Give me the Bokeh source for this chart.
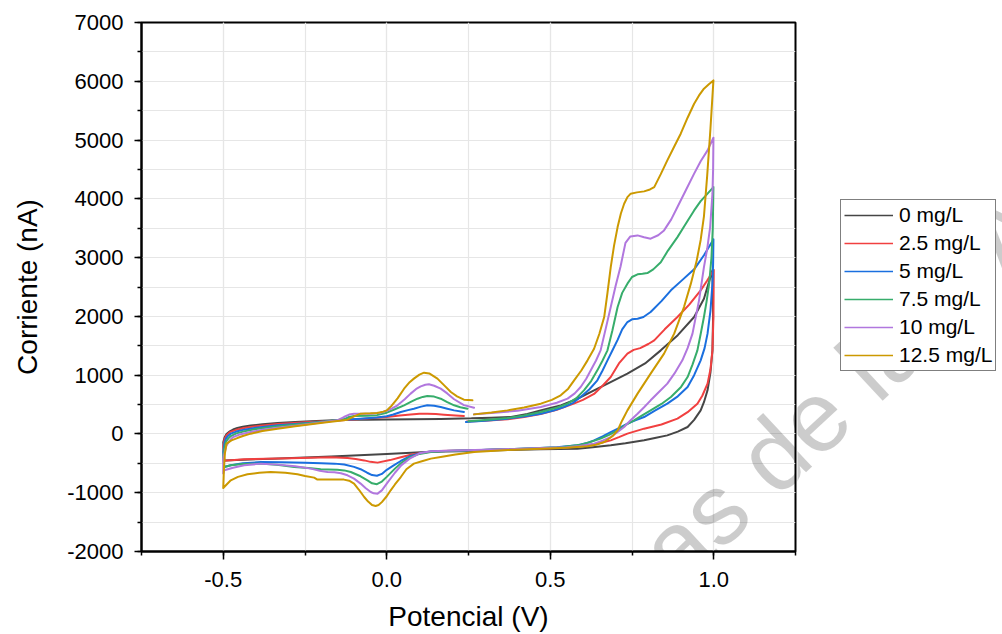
from bokeh.plotting import figure
from bokeh.layouts import row
from bokeh.models import Legend, LegendItem, SingleIntervalTicker, PrintfTickFormatter, Label, Range1d
from bokeh.embed import file_html
from bokeh.resources import INLINE

# ---------------- data: potential (V) and current (nA), in scan order ----------------
labels = ["0 mg/L", "2.5 mg/L", "5 mg/L", "7.5 mg/L", "10 mg/L", "12.5 mg/L"]
colors = ["#464646", "#F14040", "#1A6FDF", "#37AD6B", "#B177DE", "#CC9900"]

v_0 = [0.26, 0.32, 0.38, 0.43, 0.47, 0.50, 0.532, 0.58, 0.634, 0.68, 0.736, 0.79, 0.838, 0.89, 0.94, 0.97, 0.996,
       0.998, 0.996, 0.99, 0.981, 0.97, 0.96, 0.94, 0.92, 0.89, 0.858, 0.82, 0.787, 0.73, 0.685, 0.63, 0.583,
       0.47, 0.37, 0.27, 0.135, 0.0, -0.17, -0.35, -0.497,
       -0.50, -0.496, -0.49, -0.48, -0.47, -0.457, -0.44, -0.416, -0.38, -0.334, -0.28, -0.232, -0.18, -0.131,
       -0.06, 0.0, 0.08, 0.165, 0.26]
i_0 = [265, 275, 290, 340, 400, 440, 486, 590, 742, 870, 1026, 1200, 1422, 1680, 1989, 2300, 2783,
       2000, 1422, 1050, 742, 540, 401, 240, 118, 40, -24, -70, -109, -160, -194, -225, -250,
       -262, -275, -290, -305, -340, -385, -420, -450,
       -140, -60, 0, 45, 75, 100, 122, 142, 165, 186, 203, 218, 230, 240,
       243, 245, 250, 255, 265]

v_1 = [0.245, 0.30, 0.37, 0.42, 0.471, 0.52, 0.572, 0.60, 0.634, 0.66, 0.685, 0.71, 0.736, 0.755, 0.775, 0.80,
       0.818, 0.85, 0.889, 0.925, 0.96, 0.98, 1.0,
       0.999, 0.996, 0.99, 0.981, 0.965, 0.95, 0.92, 0.889, 0.84, 0.787, 0.736, 0.71, 0.685, 0.65, 0.614, 0.56,
       0.50, 0.38, 0.267, 0.165, 0.12, 0.08, 0.04, 0.01, -0.028, -0.05, -0.069, -0.095, -0.12, -0.171, -0.232,
       -0.33, -0.436, -0.497,
       -0.50, -0.496, -0.49, -0.48, -0.46, -0.436, -0.40, -0.334, -0.25, -0.17, -0.08, 0.0, 0.04, 0.073, 0.10,
       0.124, 0.15, 0.175, 0.21, 0.236]
i_1 = [210, 225, 250, 290, 340, 410, 515, 580, 680, 820, 968, 1200, 1366, 1430, 1460, 1530,
       1592, 1780, 1989, 2200, 2443, 2610, 2790,
       2000, 1422, 1100, 856, 650, 515, 370, 260, 160, 90, 5, -55, -109, -160, -194, -225,
       -245, -262, -279, -291, -310, -345, -400, -445, -488, -475, -450, -425, -410, -395, -403,
       -418, -432, -455,
       -211, -90, -20, 30, 70, 100, 130, 170, 200, 220, 255, 290, 315, 330, 342,
       345, 338, 328, 315, 305]

v_2 = [0.242, 0.30, 0.369, 0.42, 0.471, 0.51, 0.542, 0.57, 0.593, 0.62, 0.644, 0.66, 0.675, 0.69, 0.706, 0.72,
       0.736, 0.75, 0.767, 0.785, 0.807, 0.84, 0.869, 0.90, 0.94, 0.97, 0.999,
       0.998, 0.996, 0.99, 0.981, 0.972, 0.96, 0.94, 0.92, 0.89, 0.858, 0.82, 0.787, 0.76, 0.736, 0.71, 0.685,
       0.66, 0.634, 0.61, 0.583, 0.52, 0.45, 0.35, 0.27, 0.18, 0.135, 0.10, 0.07, 0.043, 0.02, 0.0, -0.015,
       -0.03, -0.045, -0.06, -0.08, -0.10, -0.13, -0.16, -0.20, -0.25, -0.32, -0.385, -0.44, -0.477, -0.497,
       -0.50, -0.496, -0.492, -0.485, -0.477, -0.46, -0.436, -0.40, -0.334, -0.28, -0.232, -0.18, -0.131,
       -0.08, -0.03, 0.0, 0.02, 0.043, 0.065, 0.083, 0.105, 0.124, 0.145, 0.165, 0.185, 0.206, 0.236]
i_2 = [203, 225, 260, 295, 345, 400, 458, 530, 628, 760, 912, 1080, 1252, 1420, 1600, 1780,
       1904, 1950, 1961, 1990, 2074, 2260, 2443, 2600, 2800, 3040, 3310,
       2900, 2557, 2100, 1706, 1460, 1252, 1000, 798, 640, 515, 395, 288, 230, 175, 100, 32,
       -40, -109, -160, -194, -225, -245, -262, -279, -290, -300, -330, -380, -460, -540, -610, -680,
       -712, -700, -660, -600, -560, -520, -505, -498, -490, -482, -478, -500, -534, -563,
       -308, -150, -80, -30, 5, 40, 73, 105, 146, 170, 192, 215, 243,
       260, 280, 300, 330, 373, 405, 430, 465, 487, 478, 458, 430, 401, 375]

v_3 = [0.25, 0.31, 0.369, 0.42, 0.471, 0.52, 0.553, 0.58, 0.603, 0.625, 0.644, 0.66, 0.675, 0.69, 0.706, 0.72,
       0.736, 0.75, 0.767, 0.782, 0.797, 0.815, 0.838, 0.86, 0.889, 0.915, 0.94, 0.96, 0.981, 0.999,
       0.997, 0.993, 0.986, 0.978, 0.970, 0.96, 0.950, 0.935, 0.920, 0.90, 0.869, 0.84, 0.807, 0.78, 0.756,
       0.73, 0.706, 0.68, 0.654, 0.62, 0.593, 0.53, 0.45, 0.35, 0.27, 0.18, 0.135, 0.10, 0.07, 0.045, 0.025,
       0.0, -0.015, -0.03, -0.045, -0.059, -0.08, -0.11, -0.13, -0.151, -0.18, -0.202, -0.24, -0.283, -0.33,
       -0.385, -0.44, -0.477, -0.497,
       -0.50, -0.497, -0.492, -0.485, -0.477, -0.46, -0.436, -0.40, -0.334, -0.28, -0.232, -0.18, -0.131,
       -0.115, -0.10, -0.06, -0.03, 0.0, 0.025, 0.053, 0.075, 0.094, 0.11, 0.124, 0.145, 0.165, 0.185, 0.206,
       0.225, 0.247]
i_3 = [215, 240, 270, 315, 373, 445, 515, 610, 742, 900, 1082, 1250, 1422, 1760, 2159, 2400,
       2557, 2670, 2715, 2725, 2737, 2800, 2920, 3120, 3349, 3580, 3803, 3960, 4088, 4200,
       3500, 3000, 2557, 2250, 1989, 1700, 1422, 1180, 968, 800, 628, 510, 401, 310, 231,
       150, 61, -15, -80, -140, -182, -225, -245, -262, -279, -292, -308, -340, -400, -490, -590,
       -730, -810, -855, -840, -789, -720, -648, -620, -610, -605, -602, -580, -563, -530,
       -505, -510, -534, -563,
       -400, -250, -138, -80, -36, 10, 44, 85, 129, 160, 186, 215, 248,
       290, 305, 310, 320, 362, 420, 487, 550, 600, 630, 645, 635, 600, 540, 487,
       455, 430]

v_4 = [0.267, 0.33, 0.40, 0.471, 0.52, 0.553, 0.575, 0.593, 0.61, 0.624, 0.64, 0.654, 0.67, 0.685, 0.70, 0.715,
       0.73, 0.745, 0.767, 0.787, 0.807, 0.83, 0.848, 0.87, 0.889, 0.915, 0.94, 0.96, 0.981, 0.999,
       0.998, 0.996, 0.989, 0.980, 0.970, 0.955, 0.935, 0.92, 0.904, 0.88, 0.858, 0.83, 0.807, 0.787, 0.767,
       0.745, 0.726, 0.705, 0.685, 0.66, 0.634, 0.59, 0.55, 0.45, 0.35, 0.27, 0.18, 0.135, 0.10, 0.07, 0.045,
       0.025, 0.0, -0.015, -0.028, -0.04, -0.049, -0.065, -0.08, -0.10, -0.12, -0.14, -0.16, -0.181, -0.205,
       -0.232, -0.28, -0.334, -0.385, -0.436, -0.47, -0.497,
       -0.50, -0.50, -0.495, -0.49, -0.48, -0.47, -0.45, -0.416, -0.38, -0.334, -0.28, -0.232, -0.19, -0.151,
       -0.131, -0.115, -0.10, -0.05, -0.02, 0.0, 0.015, 0.033, 0.055, 0.073, 0.09, 0.104, 0.118, 0.129, 0.145,
       0.165, 0.185, 0.206, 0.236, 0.267]
i_4 = [333, 360, 395, 458, 530, 600, 690, 798, 940, 1082, 1250, 1422, 1800, 2159, 2520, 2850,
       3250, 3360, 3378, 3345, 3322, 3380, 3463, 3650, 3860, 4150, 4428, 4640, 4824, 5040,
       4500, 4088, 3519, 3150, 2839, 2273, 1706, 1460, 1252, 1030, 856, 700, 572, 455, 345,
       230, 118, 30, -53, -115, -165, -205, -225, -245, -262, -275, -288, -296, -330, -420, -530,
       -660, -845, -960, -1016, -1010, -988, -920, -845, -760, -704, -670, -652, -648, -625,
       -590, -550, -522, -505, -534, -575, -619,
       -675, -421, -300, -194, -110, -53, -10, 32, 70, 107, 140, 175, 205, 231,
       288, 330, 345, 345, 360, 395, 430, 487, 590, 686, 765, 810, 838, 844, 820,
       770, 690, 590, 490, 447]

v_5 = [0.267, 0.32, 0.369, 0.42, 0.471, 0.505, 0.532, 0.555, 0.573, 0.595, 0.614, 0.634, 0.65, 0.665, 0.675,
       0.685, 0.695, 0.706, 0.716, 0.726, 0.736, 0.746, 0.765, 0.787, 0.805, 0.818, 0.838, 0.858, 0.88, 0.899,
       0.92, 0.940, 0.955, 0.970, 0.985, 0.999,
       0.99, 0.98, 0.97, 0.96, 0.948, 0.930, 0.909, 0.879, 0.848, 0.807, 0.767, 0.736, 0.72, 0.706, 0.69,
       0.665, 0.64, 0.614, 0.55, 0.471, 0.37, 0.267, 0.21, 0.165, 0.135, 0.11, 0.083, 0.06, 0.043, 0.025,
       0.012, 0.0, -0.015, -0.025, -0.034, -0.045, -0.057, -0.069, -0.085, -0.10, -0.115, -0.131, -0.17,
       -0.212, -0.222, -0.25, -0.273, -0.31, -0.355, -0.39, -0.426, -0.455, -0.477, -0.50,
       -0.498, -0.495, -0.49, -0.475, -0.457, -0.44, -0.416, -0.38, -0.334, -0.28, -0.232, -0.19, -0.151,
       -0.12, -0.10, -0.08, -0.05, -0.03, -0.01, 0.0, 0.015, 0.033, 0.053, 0.07, 0.083, 0.10, 0.114, 0.13,
       0.155, 0.175, 0.196, 0.215, 0.236, 0.262]
i_5 = [333, 365, 401, 450, 515, 580, 657, 770, 912, 1080, 1252, 1450, 1700, 1989, 2400,
       2839, 3200, 3519, 3750, 3917, 4030, 4088, 4110, 4127, 4160, 4200, 4420, 4654, 4900, 5108,
       5380, 5618, 5760, 5874, 5950, 6015,
       5200, 4400, 3700, 3300, 2953, 2557, 2159, 1706, 1366, 1026, 686, 401, 230, 61, -40,
       -138, -185, -211, -235, -250, -275, -308, -350, -393, -420, -460, -505, -600, -733, -860,
       -959, -1060, -1160, -1210, -1226, -1210, -1150, -1073, -950, -845, -795, -777, -777,
       -777, -743, -715, -687, -660, -648, -660, -687, -730, -789, -920,
       -600, -335, -165, -110, -70, -35, 5, 50, 90, 130, 163, 195, 220,
       243, 300, 345, 350, 356, 380, 401, 480, 605, 770, 880, 941, 1010, 1043, 1030,
       941, 830, 713, 640, 583, 572]

xs = [v_0, v_1, v_2, v_3, v_4, v_5]
ys = [i_0, i_1, i_2, i_3, i_4, i_5]

FONT = "Liberation Sans"
WM_TEXT = "ecas de la UA"

# ---------------- main plot ----------------
p = figure(width=797, height=634, output_backend="svg", toolbar_location=None,
           x_range=Range1d(-0.75, 1.25), y_range=Range1d(-2000, 7000),
           min_border_left=141, min_border_right=2, min_border_top=22, min_border_bottom=83,
           background_fill_color="white", border_fill_color="white")

for x, y, c in zip(xs, ys, colors):
    p.line(x, y, line_color=c, line_width=2, line_join="round", line_cap="round")

p.xaxis.ticker = SingleIntervalTicker(interval=0.5, num_minor_ticks=2)
p.yaxis.ticker = SingleIntervalTicker(interval=1000, num_minor_ticks=2)
p.xaxis.formatter = PrintfTickFormatter(format="%.1f")
p.yaxis.formatter = PrintfTickFormatter(format="%d")
p.xaxis.axis_label = "Potencial (V)"
p.yaxis.axis_label = "Corriente (nA)"
for ax in (p.xaxis, p.yaxis):
    ax.axis_line_color = "black"
    ax.axis_line_width = 2
    ax.major_tick_line_color = "black"
    ax.major_tick_line_width = 1.5
    ax.major_tick_in = 0
    ax.minor_tick_line_color = "black"
    ax.minor_tick_line_width = 1.5
    ax.minor_tick_out = 4
    ax.minor_tick_in = 0
    ax.major_label_text_font = FONT
    ax.major_label_text_font_size = "22px"
    ax.major_label_text_color = "black"
    ax.axis_label_text_font = FONT
    ax.axis_label_text_font_size = "28px"
    ax.axis_label_text_font_style = "normal"
    ax.axis_label_text_color = "black"
p.xaxis.major_tick_out = 8
p.yaxis.major_tick_out = 7
p.xaxis.major_label_standoff = 12
p.xaxis.axis_label_standoff = 11
p.yaxis.major_label_standoff = 11
p.yaxis.axis_label_standoff = 21

for g in (p.xgrid, p.ygrid):
    g.grid_line_color = "#e6e6e6"
    g.grid_line_width = 1.2
    g.minor_grid_line_color = "#e6e6e6"
    g.minor_grid_line_width = 1.2

p.outline_line_color = "black"
p.outline_line_width = 2
p.outline_line_alpha = 1

wm = Label(x=0.585, y=-3450, x_units="data", y_units="data", text=WM_TEXT,
           angle=0.7505, angle_units="rad", text_font=FONT, text_font_size="100px",
           text_color="#000000", text_alpha=0.2, text_baseline="alphabetic", text_align="left")
p.add_layout(wm)

# ---------------- side panel with legend (its frame lines up with the main frame) ----------------
q = figure(width=205, height=634, output_backend="svg", toolbar_location=None,
           x_range=Range1d(797, 1002), y_range=Range1d(-551, -22),
           x_axis_type=None, y_axis_type=None, min_border=0,
           background_fill_color="white", border_fill_color="white", outline_line_color=None)
q.grid.visible = False

# legend-only glyphs: tiny strokes hidden behind the legend box
leg_renderers = [q.line(x=[950, 951], y=[-300, -300], line_color=c, line_width=1.5) for c in colors]
legend = Legend(items=[LegendItem(label=l, renderers=[r]) for l, r in zip(labels, leg_renderers)],
                location=(43, 180), border_line_color="black", border_line_width=1,
                background_fill_color="white", background_fill_alpha=1,
                label_text_font=FONT, label_text_font_size="21px", label_text_color="black",
                glyph_width=49, glyph_height=22, label_height=22, label_standoff=6,
                padding=3, spacing=4, margin=0)
q.add_layout(legend)

wm2 = Label(x=577, y=-637, x_units="data", y_units="data", text=WM_TEXT,
            angle=0.7505, angle_units="rad", text_font=FONT, text_font_size="100px",
            text_color="#000000", text_alpha=0.2, text_baseline="alphabetic", text_align="left")
q.add_layout(wm2)

layout = row(p, q, spacing=0)
open("out.html", "w").write(file_html(layout, INLINE))
